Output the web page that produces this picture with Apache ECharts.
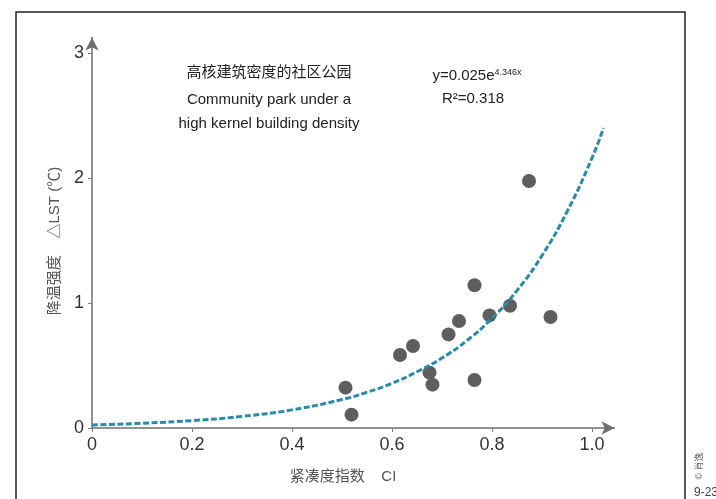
<!DOCTYPE html>
<html>
<head>
<meta charset="utf-8">
<script src="https://cdn.jsdelivr.net/npm/echarts@6/dist/echarts.min.js"></script>
<style>
  html, body { margin: 0; padding: 0; background: #fff; }
  #chart { width: 716px; height: 499px; }
</style>
</head>
<body>
<div id="chart"></div>
<script>
// Compactness index (CI) vs. cooling intensity (ΔLST) of community parks
const ciValues  = [0.507, 0.519, 0.616, 0.642, 0.675, 0.681, 0.713, 0.734, 0.765, 0.765, 0.795, 0.836, 0.874, 0.917];
const lstValues = [0.323, 0.107, 0.584, 0.656, 0.443, 0.347, 0.749, 0.856, 1.142, 0.384, 0.901, 0.978, 1.976, 0.888];

// Exponential trend line, sampled along the fitted curve
const trendCI  = [0, 0.1, 0.2, 0.3, 0.4, 0.5, 0.55, 0.6, 0.65, 0.7, 0.75, 0.8, 0.85, 0.9, 0.95, 1.0, 1.023];
const trendLST = [0.024, 0.038, 0.059, 0.093, 0.145, 0.228, 0.286, 0.357, 0.45, 0.56, 0.70, 0.878, 1.10, 1.38, 1.73, 2.16, 2.40];

const xTicks = [0, 0.2, 0.4, 0.6, 0.8, 1.0];
const yTicks = [0, 1, 2, 3];

const titleLines = ['高核建筑密度的社区公园', 'Community park under a', 'high kernel building density'];
const xName = '紧凑度指数    CI';
const yName = '降温强度    △LST (℃)';

const FONT = '"Liberation Sans", "Noto Sans CJK SC", sans-serif';

const chart = echarts.init(document.getElementById('chart'), null, { renderer: 'canvas' });

const scatterData = ciValues.map((x, i) => [x, lstValues[i]]);
const trendData = trendCI.map((x, i) => [x, trendLST[i]]);

function axisCommon(ticks, fmt) {
  return {
    type: 'value',
    axisLine: {
      show: true,
      symbol: ['none', 'arrow'],
      symbolSize: [10, 13],
      lineStyle: { color: '#6f6f6f', width: 1.5 }
    },
    axisTick: {
      show: true,
      customValues: ticks,
      length: 4,
      lineStyle: { color: '#7f7f7f', width: 1 }
    },
    axisLabel: {
      customValues: ticks,
      formatter: fmt,
      fontFamily: FONT,
      fontSize: 18,
      color: '#333'
    },
    splitLine: { show: false }
  };
}

const option = {
  backgroundColor: '#fff',
  animation: false,
  grid: {
    left: 92, right: 101.5, top: 37.5, bottom: 71,
    containLabel: false,
    outerBoundsMode: 'none'
  },
  xAxis: Object.assign(axisCommon(xTicks, v => (v === 0 ? '0' : v.toFixed(1))), {
    min: 0, max: 1.045
  }),
  yAxis: Object.assign(axisCommon(yTicks, v => String(v)), {
    min: 0, max: 3.124
  }),
  series: [
    {
      type: 'scatter',
      data: scatterData,
      symbol: 'circle',
      symbolSize: 14,
      itemStyle: { color: '#5e5e60', opacity: 1 },
      z: 2
    },
    {
      type: 'line',
      data: trendData,
      smooth: 0.5,
      showSymbol: false,
      lineStyle: { color: '#2a8aa8', width: 3, type: [6, 2.5] },
      z: 3
    }
  ],
  graphic: [
    // outer frame
    {
      type: 'rect',
      silent: true,
      shape: { x: 16, y: 12, width: 669, height: 540 },
      style: { fill: 'none', stroke: '#222', lineWidth: 1.5 }
    },
    // panel title
    ...titleLines.map((t, i) => ({
      type: 'text',
      silent: true,
      x: 269, y: [73, 100, 124][i],
      style: {
        text: t, align: 'center', verticalAlign: 'middle',
        font: '15px ' + FONT, fill: '#222'
      }
    })),
    // fitted equation
    {
      type: 'text',
      silent: true,
      x: 477, y: 76,
      style: {
        text: '{b|y=0.025e}{s|4.346x}',
        align: 'center', verticalAlign: 'middle',
        rich: {
          b: { fontFamily: FONT, fontSize: 15, fill: '#222', color: '#222' },
          s: { fontFamily: FONT, fontSize: 9, fill: '#222', color: '#222', verticalAlign: 'top' }
        }
      }
    },
    {
      type: 'text',
      silent: true,
      x: 473, y: 99,
      style: {
        text: 'R²=0.318', align: 'center', verticalAlign: 'middle',
        font: '15px ' + FONT, fill: '#222'
      }
    },
    // axis names
    {
      type: 'text',
      silent: true,
      x: 343, y: 477,
      style: {
        text: xName, align: 'center', verticalAlign: 'middle',
        font: '15px ' + FONT, fill: '#555'
      }
    },
    {
      type: 'text',
      silent: true,
      x: 55, y: 241,
      rotation: Math.PI / 2,
      style: {
        text: yName, align: 'center', verticalAlign: 'middle',
        font: '15px ' + FONT, fill: '#555'
      }
    },
    // credit
    {
      type: 'text',
      silent: true,
      x: 700, y: 466,
      rotation: Math.PI / 2,
      style: {
        text: '© 肖逸', align: 'center', verticalAlign: 'middle',
        font: '9px ' + FONT, fill: '#666'
      }
    },
    {
      type: 'text',
      silent: true,
      x: 694, y: 493,
      style: {
        text: '9-23', align: 'left', verticalAlign: 'middle',
        font: '12px ' + FONT, fill: '#444'
      }
    }
  ]
};

chart.setOption(option);
</script>
</body>
</html>
